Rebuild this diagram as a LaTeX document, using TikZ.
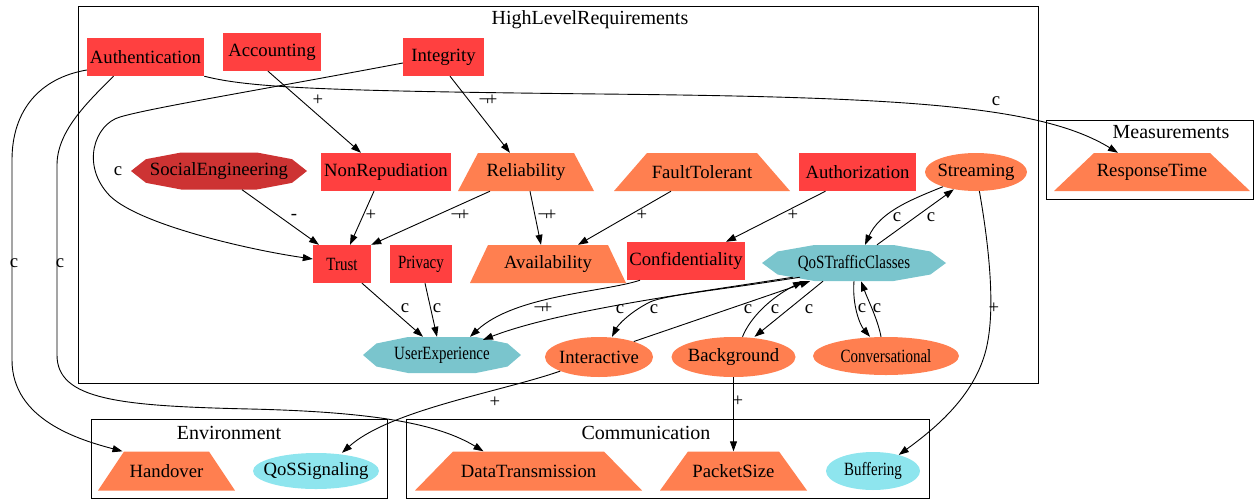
\documentclass[tikz,border=0pt]{standalone}
\usepackage{fontspec}
\setmainfont{Liberation Serif}
\newfontfamily\condensed[FakeStretch=0.8]{Liberation Serif}
\usetikzlibrary{shapes.geometric,arrows.meta,calc}

\definecolor{boxred}{HTML}{FF4040}
\definecolor{darkred}{HTML}{CD3333}
\definecolor{coralc}{HTML}{FF7F50}
\definecolor{tealc}{HTML}{7AC5CD}
\definecolor{lightcyan}{HTML}{8EE5EE}

% zero-width text so that ellipses keep their given size
\newcommand\zerowidth[1]{\makebox[0pt]{#1}}
% negated plus
\newcommand\negplus{¬\kern-2.5pt+}

\begin{document}
\begin{tikzpicture}[x=1pt,y=-1pt,
  every node/.style={font=\fontsize{18.7}{22}\selectfont, inner sep=0pt},
  redbox/.style={rectangle, fill=boxred, minimum height=38pt},
  % trapezium drawn inside the node box; #1 is the slant of each side
  trap/.style={rectangle, minimum height=38pt, path picture={
    \fill[coralc] let \p1=(path picture bounding box.south west),
                      \p2=(path picture bounding box.north east) in
      (\x1,\y1) -- (\x2,\y1) -- ({\x2-#1},\y2) -- ({\x1+#1},\y2) -- cycle;}},
  oval/.style={ellipse, fill=coralc},
  octo/.style={rectangle, path picture={
    \fill[#1] let \p1=(path picture bounding box.south west),
                  \p2=(path picture bounding box.north east),
                  \n1={\x2-\x1}, \n2={\y2-\y1} in
      (\x1,{\y1+0.5*\n2}) -- ({\x1+0.085*\n1},{\y1+0.82*\n2})
      -- ({\x1+0.285*\n1},\y2) -- ({\x1+0.715*\n1},\y2)
      -- ({\x1+0.915*\n1},{\y1+0.82*\n2}) -- (\x2,{\y1+0.5*\n2})
      -- ({\x1+0.915*\n1},{\y1+0.18*\n2}) -- ({\x1+0.715*\n1},\y1)
      -- ({\x1+0.285*\n1},\y1) -- ({\x1+0.085*\n1},{\y1+0.18*\n2}) -- cycle;}},
  link/.style={draw=black, line width=0.9pt, -{Triangle[length=10pt,width=7pt]}},
  lbl/.style={},
  cluster/.style={draw=black, line width=0.9pt},
  clusterlabel/.style={font=\fontsize{20}{24}\selectfont},
]
\useasboundingbox (0,0) rectangle (1256,499);

% clusters
\draw[cluster] (78,6) rectangle (1038,383);
\node[clusterlabel] (hlrlabel) at (590,20) {HighLevelRequirements};
\draw[cluster] (1046,120) rectangle (1253,199);
\node[clusterlabel] (measlabel) at (1171,132) {Measurements};
\draw[cluster] (91,419) rectangle (387,498);
\node[clusterlabel] (envlabel) at (229,433) {Environment};
\draw[cluster] (406,419) rectangle (929,498);
\node[clusterlabel] (commlabel) at (646,433) {Communication};

% nodes
\node[redbox, minimum width=117pt] (Authentication) at (145.5,57) {Authentication};
\node[redbox, minimum width=98pt] (Accounting) at (272,52) {Accounting};
\node[redbox, minimum width=81pt] (Integrity) at (443.5,57) {Integrity};
\node[octo=darkred, minimum width=176pt, minimum height=37pt] (SocialEngineering) at (219,171) {SocialEngineering};
\node[redbox, minimum width=130pt] (NonRepudiation) at (386,172) {NonRepudiation};
\node[trap=20, minimum width=136pt] (Reliability) at (526,172) {Reliability};
\node[trap=33, minimum width=176pt] (FaultTolerant) at (702,172) {FaultTolerant};
\node[redbox, minimum width=117pt] (Authorization) at (857.5,172) {Authorization};
\node[oval, minimum width=102pt, minimum height=38pt] (Streaming) at (976,172) {\zerowidth{Streaming}};
\node[redbox, minimum width=58pt] (Trust) at (342,264) {\condensed Trust};
\node[redbox, minimum width=62pt] (Privacy) at (421,264) {\condensed Privacy};
\node[trap=18, minimum width=156pt] (Availability) at (548,264) {Availability};
\node[redbox, minimum width=118pt] (Confidentiality) at (686,261) {Confidentiality};
\node[octo=tealc, minimum width=184pt, minimum height=36pt] (QoSTrafficClasses) at (854,263) {\condensed QoSTrafficClasses};
\node[octo=tealc, minimum width=158pt, minimum height=36pt] (UserExperience) at (442,355) {\condensed UserExperience};
\node[oval, minimum width=108pt, minimum height=40pt] (Interactive) at (599,357) {\zerowidth{Interactive}};
\node[oval, minimum width=124pt, minimum height=40pt] (Background) at (733.5,357) {\zerowidth{Background}};
\node[oval, minimum width=146pt, minimum height=38pt] (Conversational) at (886,356) {\zerowidth{\condensed Conversational}};
\node[trap=40, minimum width=196pt] (ResponseTime) at (1152,172) {ResponseTime};
\node[trap=26, minimum width=137pt, minimum height=39pt] (Handover) at (166.5,471) {Handover};
\node[oval, fill=lightcyan, minimum width=126pt, minimum height=36pt] (QoSSignaling) at (316,471) {\zerowidth{QoSSignaling}};
\node[trap=38, minimum width=227pt, minimum height=39pt] (DataTransmission) at (528.5,471) {DataTransmission};
\node[trap=28, minimum width=147pt, minimum height=39pt] (PacketSize) at (733.5,471) {PacketSize};
\node[oval, fill=lightcyan, minimum width=94pt, minimum height=38pt] (Buffering) at (873,471) {\zerowidth{\condensed Buffering}};

% connectors
\draw[link] (Authentication.south east) .. controls (250,88) and (330,91) .. (600,94)
  .. controls (900,97) and (1040,105) .. ([xshift=-34pt]ResponseTime.north)
  node[lbl, at={(996,101)}] {c};
\draw[link] ([yshift=-13pt]Authentication.west) .. controls (40,78) and (12,110) .. (12,160)
  -- (12,360) .. controls (12,420) and (80,440) .. ([xshift=-44pt]Handover.north)
  node[lbl, at={(14,263)}] {c};
\draw[link] ([xshift=-32pt]Authentication.south) .. controls (90,100) and (57,130) .. (57,165)
  -- (57,355) .. controls (57,400) and (120,406) .. (250,409)
  .. controls (380,412) and (440,425) .. ([xshift=-45pt]DataTransmission.north)
  node[lbl, at={(60,263)}] {c};
\draw[link] ([xshift=-4pt]Accounting.south) -- ([xshift=-25pt]NonRepudiation.north)
  node[lbl, at={(318,100)}] {+};
\draw[link] ([xshift=6.5pt]Integrity.south) -- ([xshift=-16pt]Reliability.north)
  node[lbl, at={(488,100)}] {\negplus};
\draw[link] ([yshift=-6pt]Integrity.west) .. controls (260,90) and (150,108) .. (120,117)
  .. controls (95,124) and (80,165) .. (110,196)
  .. controls (140,225) and (250,250) .. ([yshift=5pt]Trust.west)
  node[lbl, at={(118,171)}] {c};
\draw[link] ([xshift=23pt]SocialEngineering.south) -- ([xshift=-23pt]Trust.north)
  node[lbl, at={(294,217)}] {-};
\draw[link] ([xshift=-12pt]NonRepudiation.south) -- ([xshift=8pt]Trust.north)
  node[lbl, at={(371,215)}] {+};
\draw[link] ([xshift=-36pt]Reliability.south) -- (Trust.north east)
  node[lbl, at={(460,215)}] {\negplus};
\draw[link] ([xshift=4pt]Reliability.south) -- ([xshift=-7pt]Availability.north)
  node[lbl, at={(547,215)}] {\negplus};
\draw[link] ([xshift=-31pt]FaultTolerant.south) -- ([xshift=30pt]Availability.north)
  node[lbl, at={(642,215)}] {+};
\draw[link] ([xshift=-32pt]Authorization.south) -- ([xshift=40pt]Confidentiality.north)
  node[lbl, at={(793,215)}] {+};
\draw[link] ([xshift=20pt]Trust.south) -- ([xshift=-19pt]UserExperience.north)
  node[lbl, at={(405,308)}] {c};
\draw[link] ([xshift=4pt]Privacy.south) -- ([xshift=-5pt]UserExperience.north)
  node[lbl, at={(437,308)}] {c};
\draw[link] ([xshift=-46pt]Confidentiality.south) .. controls (605,292) and (515,295) .. ([xshift=28pt]UserExperience.north)
  node[lbl, at={(543,308)}] {\negplus};
\draw[link] ([xshift=-61pt,yshift=4pt]QoSTrafficClasses.south) .. controls (700,292) and (560,310) .. ([xshift=41pt,yshift=-3pt]UserExperience.north)
  node[lbl, at={(654,309)}] {c};
\draw[link] ([xshift=-54pt,yshift=4pt]QoSTrafficClasses.south) .. controls (720,290) and (665,295) .. (650,302)
  .. controls (630,312) and (618,325) .. ([xshift=13pt]Interactive.north)
  node[lbl, at={(620,309)}] {c};
\draw[link] (Interactive.24) -- ([xshift=-44pt]QoSTrafficClasses.south)
  node[lbl, at={(748,309)}] {c};
\draw[link] ([xshift=9pt]Background.north) .. controls (750,318) and (770,298) .. ([xshift=-51pt]QoSTrafficClasses.south)
  node[lbl, at={(775,309)}] {c};
\draw[link] ([xshift=-31pt]QoSTrafficClasses.south) -- ([xshift=21pt]Background.north)
  node[lbl, at={(809,309)}] {c};
\draw[link] (QoSTrafficClasses.south) .. controls (852,305) and (860,325) .. ([xshift=-16pt]Conversational.north)
  node[lbl, at={(862,308)}] {c};
\draw[link] ([xshift=-5pt]Conversational.north) .. controls (878,320) and (868,300) .. ([xshift=7pt]QoSTrafficClasses.south)
  node[lbl, at={(877,308)}] {c};
\draw[link] ([xshift=23pt]QoSTrafficClasses.north) -- (Streaming.218)
  node[lbl, at={(931,217)}] {c};
\draw[link] (Streaming.204) .. controls (910,200) and (880,212) .. ([xshift=11pt]QoSTrafficClasses.north)
  node[lbl, at={(897,217)}] {c};
\draw[link] (Streaming.280) .. controls (988,240) and (995,300) .. (988,340)
  .. controls (980,390) and (940,425) .. (Buffering.32)
  node[lbl, at={(994,308)}] {+};
\draw[link] (Interactive.200) .. controls (500,392) and (390,410) .. ([xshift=26pt]QoSSignaling.north)
  node[lbl, at={(495,402)}] {+};
\draw[link] (Background.south) -- (PacketSize.north)
  node[lbl, at={(738,401)}] {+};
\end{tikzpicture}
\end{document}
